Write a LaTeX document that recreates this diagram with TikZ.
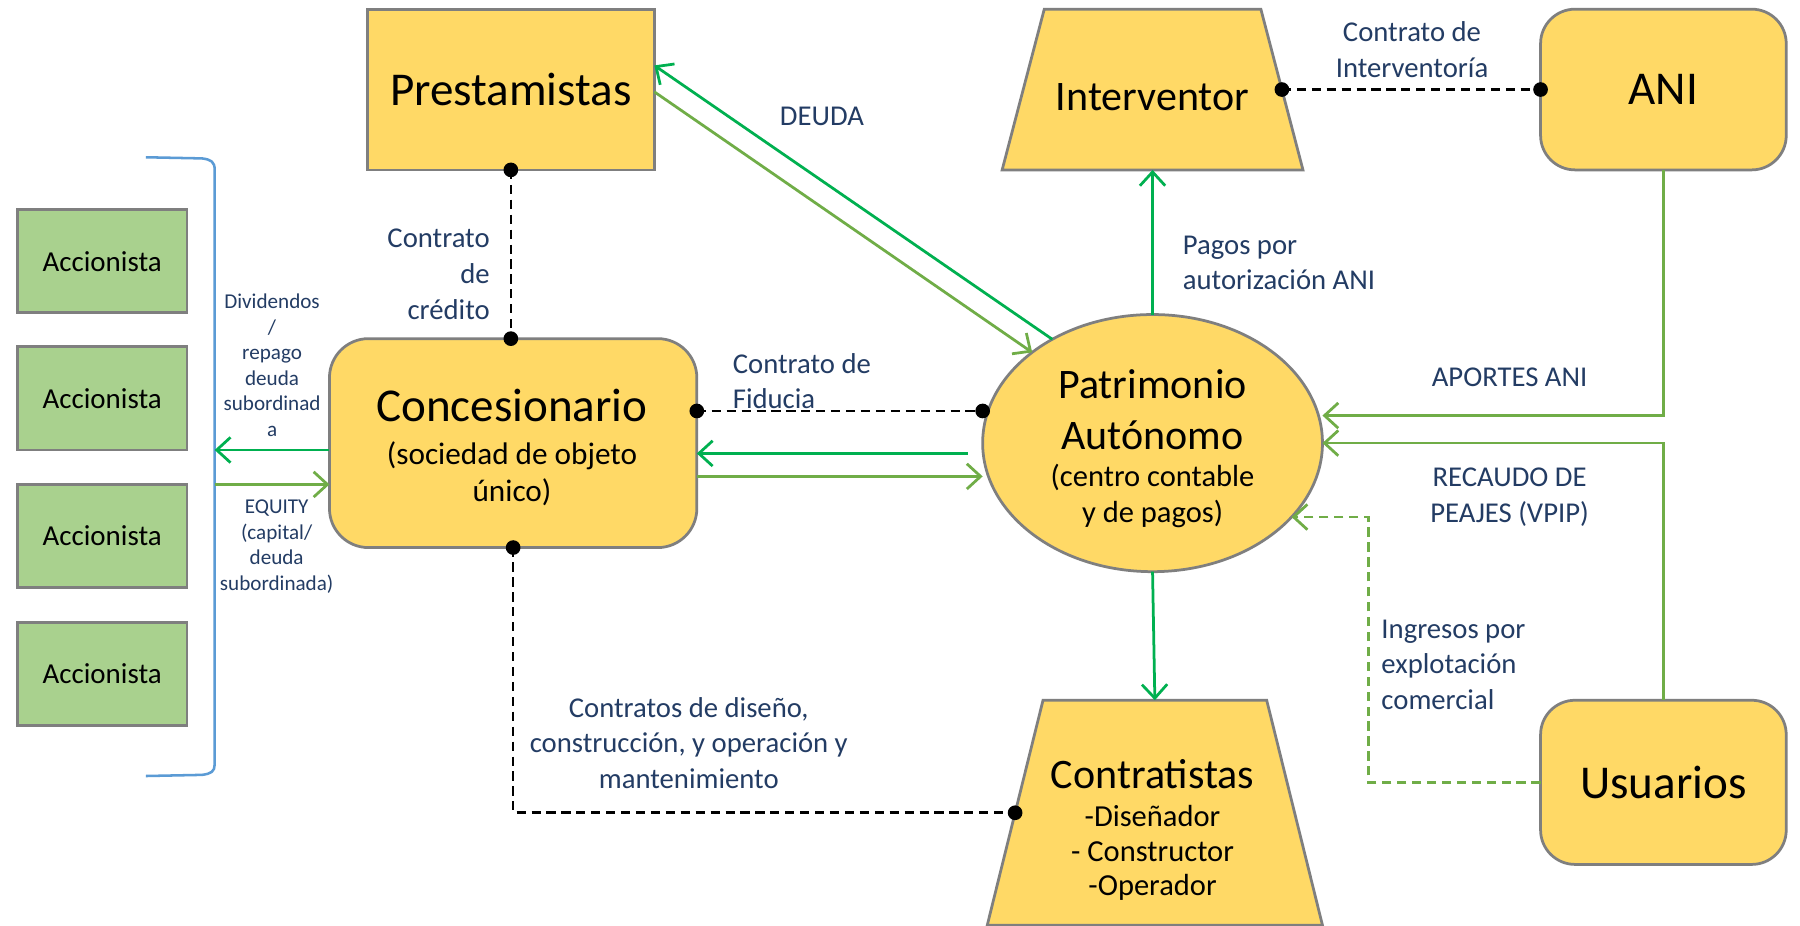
\documentclass[tikz,border=0pt]{standalone}
\usepackage{fontspec}
\setmainfont{Carlito}
\usetikzlibrary{shapes.geometric,arrows.meta,calc}
\definecolor{fillY}{RGB}{255,217,102}
\definecolor{fillG}{RGB}{169,209,142}
\definecolor{edgeG}{RGB}{127,127,127}
\definecolor{dgreen}{RGB}{0,176,80}
\definecolor{lgreen}{RGB}{112,173,71}
\definecolor{navy}{RGB}{35,60,100}
\definecolor{brblue}{RGB}{91,155,213}
\begin{document}
\begin{tikzpicture}[x=0.5pt,y=-0.5pt,
  box/.style={draw=edgeG, line width=1.2pt, fill=fillY, inner sep=0pt, outer sep=0pt},
  trapbox/.style={box, trapezium, trapezium stretches=true, inner sep=3pt},
  sharebox/.style={draw=edgeG, line width=1.2pt, fill=fillG, minimum width=74pt, minimum height=45pt, inner sep=0pt, outer sep=0pt, font=\fontsize{12.6}{15}\selectfont},
  bigtxt/.style={font=\fontsize{20.5}{24}\selectfont},
  midtxt/.style={font=\fontsize{18.3}{22}\selectfont, inner sep=0pt},
  subtxt/.style={font=\fontsize{13.3}{15.5}\selectfont, inner sep=0pt},
  lbl/.style={text=navy, font=\fontsize{12.5}{15.5}\selectfont, inner sep=0pt},
  smalllbl/.style={text=navy, font=\fontsize{9.2}{11.1}\selectfont, inner sep=0pt, align=center},
  flow/.style={line width=1.2pt, -{Straight Barb[length=6pt,width=11pt]}},
  dflow/.style={flow, draw=dgreen},
  lflow/.style={flow, draw=lgreen},
  contract/.style={draw=black, line width=1.1pt, dash pattern=on 4pt off 2.5pt},
  dotmark/.style={fill=black}
]
\useasboundingbox (0,0) rectangle (1568,806);
\fill[white] (0,0) rectangle (1568,806);

% shareholders
\foreach \i/\y in {1/227.5,2/347,3/467,4/587}
  \node[sharebox] (acc\i) at (89,\y) {Accionista};

% bracket
\draw[brblue, line width=1.1pt] (127,137) -- (176,138) .. controls (184,139) and (187,141) .. (187,148) -- (187,666) .. controls (187,672) and (184,674) .. (176,675) -- (127,676);
\coordinate (brk) at (187,400);

% main boxes
\node[box, minimum width=125pt, minimum height=70pt, bigtxt] (pres) at (445,78) {Prestamistas};
\node[trapbox, trapezium angle=79, minimum width=131pt, minimum height=70pt] (interv) at (1004,78) {};
\node[midtxt] (intervT) at (1004,85) {Interventor};
\node[box, rounded corners=15pt, minimum width=107pt, minimum height=70pt, bigtxt] (ani) at (1449,78) {ANI};

\node[box, rounded corners=17pt, minimum width=160pt, minimum height=91pt] (conc) at (447,386) {};
\node[bigtxt, inner sep=0pt] (concT) at (446,353) {Concesionario};
\node[subtxt, align=center, font=\fontsize{13.6}{16}\selectfont] (concS) at (446,413) {(sociedad de objeto\\único)};

\node[box, ellipse, minimum width=148pt, minimum height=112pt] (pat) at (1004,386) {};
\node[midtxt, align=center] (patT) at (1004,357) {Patrimonio\\Autónomo};
\node[subtxt, align=center] (patS) at (1004,432) {(centro contable\\y de pagos)};

\node[trapbox, trapezium angle=76, minimum width=146pt, minimum height=98pt] (contr) at (1006,708) {};
\node[midtxt] (contrT) at (1004,674) {Contratistas};
\node[subtxt, align=center, font=\fontsize{13.3}{15}\selectfont] (contrS) at (1004,743) {-Diseñador\\- Constructor\\-Operador};

\node[box, rounded corners=15pt, minimum width=107pt, minimum height=71.5pt, bigtxt] (usu) at (1449,681.5) {Usuarios};

% labels
\node[lbl, align=right, anchor=east] (credT) at (427,239) {Contrato\\de\\crédito};
\node[lbl] (deudaT) at (716,101) {DEUDA};
\node[lbl, align=center] (intCT) at (1230,43) {Contrato de\\Interventoría};
\node[lbl, align=left, anchor=west] (fidT) at (638,332) {Contrato de\\Fiducia};
\node[lbl, align=left, anchor=west] (pagT) at (1030,229) {Pagos por\\autorización ANI};
\node[lbl] (apT) at (1315,329) {APORTES ANI};
\node[lbl, align=center] (recT) at (1315,433) {RECAUDO DE\\PEAJES (VPIP)};
\node[lbl, align=left, anchor=west] (ingT) at (1203,579) {Ingresos por\\explotación\\comercial};
\node[lbl, align=center] (cdT) at (600,647) {Contratos de diseño,\\construcción, y operación y\\mantenimiento};
\node[smalllbl] (divT) at (237,318) {Dividendos\\/\\repago\\deuda\\subordinad\\a};
\node[smalllbl] (eqT) at (241,476) {EQUITY\\(capital/\\deuda\\subordinada)};

% contract connectors (dashed, dotted ends)
\draw[contract] (pres.south) -- (pres.south |- conc.north);
\fill[dotmark] (pres.south) circle (3.2pt);
\fill[dotmark] (pres.south |- conc.north) circle (3.2pt);

\coordinate (fidA) at ($(conc.east)+(0,-28)$);
\coordinate (fidB) at (fidA -| pat.west);
\draw[contract] (fidA) -- (fidB);
\fill[dotmark] (fidA) circle (3.2pt);
\fill[dotmark] (fidB) circle (3.2pt);

\draw[contract] (interv.right side) -- (ani.west);
\fill[dotmark] (interv.right side) circle (3.2pt);
\fill[dotmark] (ani.west) circle (3.2pt);

\draw[contract] (conc.south) |- (contr.left side);
\fill[dotmark] (conc.south) circle (3.2pt);
\fill[dotmark] (contr.left side) circle (3.2pt);

% flows
\draw[dflow] (pat.134) -- ($(pres.east)+(0,-21)$);
\draw[lflow] ($(pres.east)+(0,2)$) -- (pat.143);

\coordinate (dgS) at ($(pat.west)+(-13,9)$);
\draw[dflow] (dgS) -- (dgS -| conc.east);
\coordinate (lgS) at ($(conc.east)+(0,29)$);
\draw[lflow] (lgS) -- (lgS -| pat.west);

\draw[dflow] (pat.north) -- (interv.south);
\draw[lflow] (ani.south) |- ($(pat.east)+(0,-24)$);
\draw[lflow] (usu.north) |- (pat.east);
\draw[lflow, dash pattern=on 4pt off 2.5pt] (usu.west) -- ++(-150,0) |- (pat.-28.3);
\draw[dflow] (pat.south) -- (contr.north);

\coordinate (divS) at ($(conc.west)+(0,6)$);
\draw[dflow] (divS) -- (divS -| brk);
\coordinate (eqE) at ($(conc.west)+(0,36)$);
\draw[lflow] (eqE -| brk) -- (eqE);
\end{tikzpicture}
\end{document}
